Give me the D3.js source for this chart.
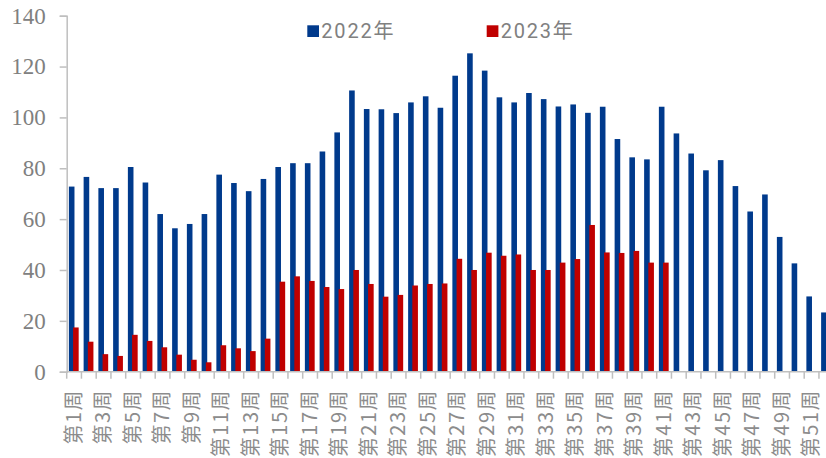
<!DOCTYPE html>
<html>
<head>
<meta charset="utf-8">
<script src="https://cdn.jsdelivr.net/npm/d3@7"></script>
<style>
  html, body { margin: 0; padding: 0; background: #fff; }
  svg { display: block; }
</style>
</head>
<body>
<svg id="chart" width="826" height="458"></svg>
<script>
// ---- data ----
const weeks = d3.range(1, 53).map(i => "第" + i + "周");
const seriesNames = ["2022年", "2023年"];
const v2022 = [72.8, 76.6, 72.2, 72.2, 80.5, 74.4, 62.0, 56.4, 58.1, 62.0,
               77.5, 74.2, 71.0, 75.8, 80.5, 82.0, 82.0, 86.6, 94.1, 110.6,
               103.3, 103.2, 101.7, 105.9, 108.3, 103.8, 116.4, 125.2, 118.4, 107.9,
               105.9, 109.6, 107.2, 104.3, 105.1, 101.8, 104.2, 91.5, 84.3, 83.5,
               104.2, 93.7, 85.8, 79.2, 83.2, 73.0, 63.0, 69.7, 53.0, 42.6,
               29.6, 23.3];
const v2023 = [17.4, 11.8, 6.9, 6.2, 14.5, 12.1, 9.6, 6.7, 4.7, 3.7,
               10.4, 9.2, 8.1, 13.0, 35.4, 37.5, 35.7, 33.3, 32.5, 40.0,
               34.5, 29.5, 30.2, 33.9, 34.5, 34.7, 44.4, 40.0, 46.8, 45.6,
               46.1, 40.0, 40.0, 42.9, 44.3, 57.7, 46.9, 46.7, 47.5, 42.9,
               42.9];
const yTicks = [0, 20, 40, 60, 80, 100, 120, 140];
const colors = ["#003A8C", "#C00000"];

// ---- layout ----
const svg = d3.select("#chart");
const x0 = 66.7, bw = 14.75;
const yBase = 371.7, yTop = 15.7;
const axisColor = "#BFBFBF";
const textColor = "#808080";

const x = d3.scaleBand().domain(weeks).range([x0, x0 + bw * weeks.length]).paddingInner(0).paddingOuter(0);
const y = d3.scaleLinear().domain([0, 140]).range([yBase, yTop]);

const barW = 5.6;
const offsets = [-5.2, -1.0];

// bars
[v2022, v2023].forEach((vals, si) => {
  svg.append("g").selectAll("rect")
    .data(vals.map((v, i) => ({ w: weeks[i], v })))
    .join("rect")
    .attr("x", d => x(d.w) + x.bandwidth() / 2 + offsets[si])
    .attr("y", d => y(d.v))
    .attr("width", barW)
    .attr("height", d => y(0) - y(d.v))
    .attr("fill", colors[si]);
});

// y axis
const yAxis = svg.append("g").attr("transform", `translate(${x0},0)`)
  .call(d3.axisLeft(y).tickValues(yTicks).tickSize(7).tickPadding(14).tickFormat(d3.format("d")));
yAxis.select(".domain").attr("stroke", axisColor).attr("stroke-width", 1.5);
yAxis.selectAll(".tick line").attr("stroke", axisColor).attr("stroke-width", 1.5);
yAxis.selectAll(".tick text")
  .attr("fill", textColor)
  .style("font-family", "'Liberation Serif', 'Times New Roman', serif")
  .style("font-size", "23px");

// x axis line + boundary ticks
const xg = svg.append("g");
xg.append("line")
  .attr("x1", x0).attr("x2", 826)
  .attr("y1", yBase).attr("y2", yBase)
  .attr("stroke", axisColor).attr("stroke-width", 1.5);
xg.selectAll("line.tk")
  .data(weeks)
  .join("line")
  .attr("class", "tk")
  .attr("x1", d => x(d)).attr("x2", d => x(d))
  .attr("y1", yBase).attr("y2", yBase + 7)
  .attr("stroke", axisColor).attr("stroke-width", 1.5);

// x labels (odd weeks)
xg.selectAll("text")
  .data(weeks.filter((d, i) => i % 2 === 0))
  .join("text")
  .attr("transform", d => `translate(${x(d) + x.bandwidth() / 2 - 0.5},389) rotate(-90)`)
  .attr("text-anchor", "end")
  .attr("dy", "0.36em")
  .attr("fill", "#8C8C8C")
  .style("font-family", "'Noto Sans CJK SC', sans-serif")
  .style("font-size", "20px")
  .style("letter-spacing", "1.5px")
  .text(d => d);

// legend
const legendX = [307.3, 486.7];
const lg = svg.append("g");
seriesNames.forEach((name, i) => {
  lg.append("rect")
    .attr("x", legendX[i]).attr("y", 25.3)
    .attr("width", 11.7).attr("height", 11.7)
    .attr("fill", colors[i]);
  lg.append("text")
    .attr("x", legendX[i] + 14)
    .attr("y", 38)
    .attr("fill", textColor)
    .style("font-family", "Roboto, 'Noto Sans CJK SC', sans-serif")
    .style("font-size", "20px")
    .style("letter-spacing", "1.8px")
    .text(name);
});
</script>
</body>
</html>
